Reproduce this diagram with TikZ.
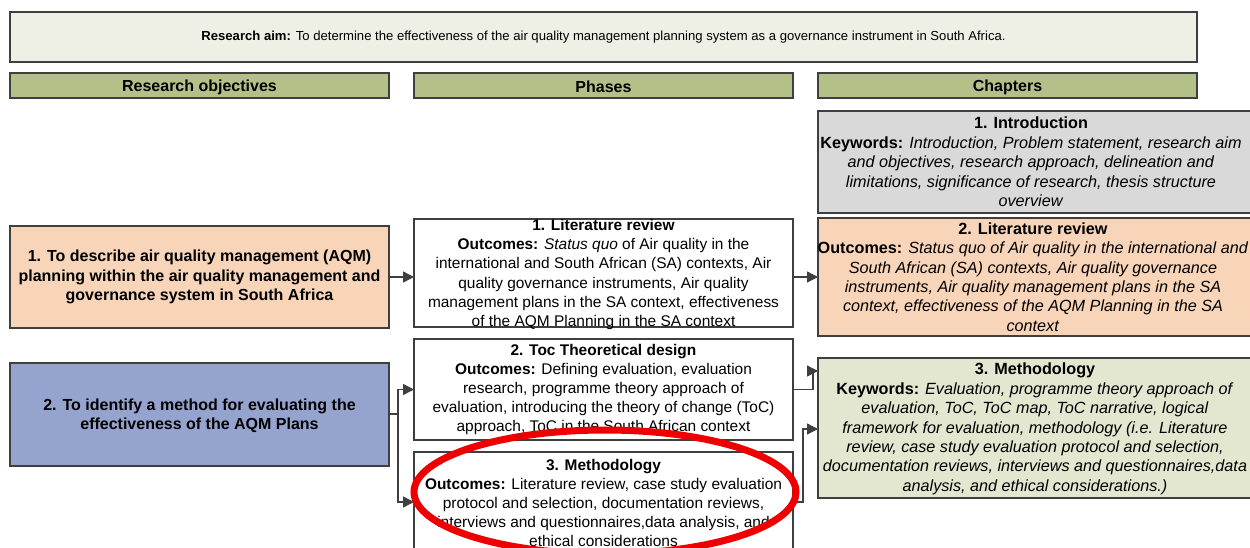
\documentclass[tikz,border=0pt]{standalone}
\usepackage{fontspec}
\setmainfont{Liberation Sans}
\usetikzlibrary{arrows.meta,shapes.geometric}
\definecolor{framegray}{HTML}{3F3F3F}
\definecolor{aimfill}{HTML}{EEF0E6}
\definecolor{headfill}{HTML}{B3C189}
\definecolor{introfill}{HTML}{D9D9D9}
\definecolor{peach}{HTML}{F8D5B8}
\definecolor{lavender}{HTML}{95A3CF}
\definecolor{sage}{HTML}{E3E7D0}
\definecolor{ringred}{HTML}{EE0000}
\tikzset{
  panel/.style={draw=framegray, line width=1.2pt, inner sep=0pt, outer sep=0pt,
    anchor=north west, rectangle},
  txt/.style={align=center, inner sep=0pt, text=black},
  headtxt/.style={txt, font=\fontsize{16}{19}\selectfont\bfseries},
  objtxt/.style={txt, font=\fontsize{16}{19.2}\selectfont\bfseries},
  phasetxt/.style={txt, font=\fontsize{15.45}{19.2}\selectfont},
  chaptxt/.style={txt, font=\fontsize{16.2}{19.4}\selectfont},
  link/.style={draw=framegray, line width=1.4pt},
  arr/.style={link, -{Triangle[length=11pt,width=11pt]}},
}
\begin{document}
\begin{tikzpicture}[x=1pt,y=-1pt]
\useasboundingbox (0,0) rectangle (1250,547);
\fill[white] (0,0) rectangle (1250,547);

% aim banner and column headers
\node[panel, fill=aimfill, minimum width=1187pt, minimum height=50pt] (aim) at (10,12) {};
\node[txt, font=\fontsize{13.1}{16}\selectfont] (aimt) at (aim.center)
  {\textbf{Research aim:} To determine the effectiveness of the air quality management planning system as a governance instrument in South Africa.};
\node[panel, fill=headfill, minimum width=379pt, minimum height=25pt] (hobj) at (10,73) {};
\node[panel, fill=headfill, minimum width=379pt, minimum height=25pt] (hpha) at (414,73) {};
\node[panel, fill=headfill, minimum width=379pt, minimum height=25pt] (hcha) at (818,73) {};
\node[headtxt] (hobjt) at ([yshift=-1.5pt]hobj.center) {Research objectives};
\node[headtxt] (hphat) at ([yshift=-1.5pt]hpha.center) {Phases};
\node[headtxt] (hchat) at ([yshift=-1.5pt]hcha.center) {Chapters};

% research objectives
\node[panel, fill=peach, minimum width=379pt, minimum height=102pt] (o1) at (10,226) {};
\node[objtxt] (o1t) at (o1.center)
  {1. To describe air quality management (AQM)\\
   planning within the air quality management and\\
   governance system in South Africa};
\node[panel, fill=lavender, minimum width=379pt, minimum height=103pt] (o2) at (10,363) {};
\node[objtxt] (o2t) at ([yshift=-1.5pt]o2.center)
  {2. To identify a method for evaluating the\\
   effectiveness of the AQM Plans};

% phases
\node[panel, fill=white, minimum width=379pt, minimum height=108pt] (p1) at (414,219) {};
\node[phasetxt] (p1t) at ([yshift=-1.5pt]p1.center)
  {\textbf{1. Literature review}\\
   \textbf{Outcomes:} \textit{Status quo} of Air quality in the\\
   international and South African (SA) contexts, Air\\
   quality governance instruments, Air quality\\
   management plans in the SA context, effectiveness\\
   of the AQM Planning in the SA context};
\node[panel, fill=white, minimum width=379pt, minimum height=101pt] (p2) at (414,339) {};
\node[phasetxt] (p2t) at (p2.center)
  {\textbf{2. Toc Theoretical design}\\
   \textbf{Outcomes:} Defining evaluation, evaluation\\
   research, programme theory approach of\\
   evaluation, introducing the theory of change (ToC)\\
   approach, ToC in the South African context};
\node[panel, fill=white, minimum width=379pt, minimum height=100pt] (p3) at (414,452) {};
\node[phasetxt] (p3t) at ([yshift=-1pt]p3.center)
  {\textbf{3. Methodology}\\
   \textbf{Outcomes:} Literature review, case study evaluation\\
   protocol and selection, documentation reviews,\\
   interviews and questionnaires,data analysis, and\\
   ethical considerations};

% chapters (running past the right edge)
\node[panel, fill=introfill, minimum width=470pt, minimum height=102pt] (c1) at (818,111) {};
\node[chaptxt] (c1t) at (1031,162)
  {\textbf{1. Introduction}\\
   \textbf{Keywords:} \textit{Introduction, Problem statement, research aim}\\
   \textit{and objectives, research approach, delineation and}\\
   \textit{limitations, significance of research, thesis structure}\\
   \textit{overview}};
\node[panel, fill=peach, minimum width=470pt, minimum height=118pt] (c2) at (818,218) {};
\node[chaptxt] (c2t) at (1033,277)
  {\textbf{2. Literature review}\\
   \textbf{Outcomes:} \textit{Status quo of Air quality in the international and}\\
   \textit{South African (SA) contexts, Air quality governance}\\
   \textit{instruments, Air quality management plans in the SA}\\
   \textit{context, effectiveness of the AQM Planning in the SA}\\
   \textit{context}};
\node[panel, fill=sage, minimum width=470pt, minimum height=140pt] (c3) at (818,358) {};
\node[chaptxt] (c3t) at (1035,429)
  {\textbf{3. Methodology}\\
   \textbf{Keywords:} \textit{Evaluation, programme theory approach of}\\
   \textit{evaluation, ToC, ToC map, ToC narrative, logical}\\
   \textit{framework for evaluation, methodology (i.e. Literature}\\
   \textit{review, case study evaluation protocol and selection,}\\
   \textit{documentation reviews, interviews and questionnaires,data}\\
   \textit{analysis, and ethical considerations.)}};

% connectors
\draw[arr] (o1.east) -- (o1.east -| p1.west);
\draw[arr] (c2.west -| p1.east) -- (c2.west);
\coordinate (fork) at (398,414);
\draw[link] (o2.east |- fork) -- (fork);
\draw[arr] (fork) |- (p2.west);
\draw[arr] (fork) |- (p3.west);
\draw[arr] (p2.east) -- ++(20,0) |- ([yshift=-13pt]c3.north west);
\draw[arr] (p3.east) -- ++(10,0) |- ([yshift=-71pt]c3.north west);

% highlight ring
\node[ellipse, draw=ringred, line width=7pt, minimum width=382pt, minimum height=124pt,
  inner sep=0pt] (ring) at (605,492) {};
\end{tikzpicture}
\end{document}
